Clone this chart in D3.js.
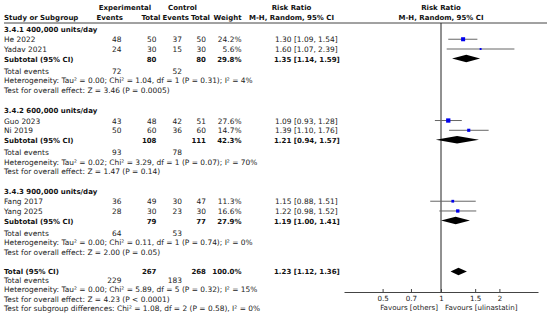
<!DOCTYPE html>
<html>
<head>
<meta charset="utf-8">
<script src="https://cdn.jsdelivr.net/npm/d3@7/dist/d3.min.js"></script>
<style>
  body { margin: 0; background: #fff; }
  svg text { font-family: "DejaVu Sans", sans-serif; font-size: 7.45px; fill: #222; }
  svg text.b { font-weight: bold; font-size: 7px; fill: #111; }
  svg .axis text, svg text.fav { font-size: 7.1px; }
</style>
</head>
<body>
<svg id="chart" width="550" height="321"></svg>
<script>
// ---- data ----
const studies     = ["He 2022", "Yadav  2021", "Guo 2023", "Ni 2019", "Fang 2017", "Yang  2025"];
const studyGroup  = [0, 0, 1, 1, 2, 2];
const expEvents   = [48, 24, 43, 50, 36, 28];
const expTotal    = [50, 30, 48, 60, 49, 30];
const ctlEvents   = [37, 15, 42, 36, 30, 23];
const ctlTotal    = [50, 30, 51, 60, 47, 30];
const weights     = [24.2, 5.6, 27.6, 14.7, 11.3, 16.6];
const rr          = [1.30, 1.60, 1.09, 1.39, 1.15, 1.22];
const rrLow       = [1.09, 1.07, 0.93, 1.10, 0.88, 0.98];
const rrHigh      = [1.54, 2.39, 1.28, 1.76, 1.51, 1.52];

const groups       = ["3.4.1 400,000 units/day", "3.4.2 600,000 units/day", "3.4.3 900,000 units/day"];
const subExpTotal  = [80, 108, 79];
const subCtlTotal  = [80, 111, 77];
const subWeight    = [29.8, 42.3, 27.9];
const subRR        = [1.35, 1.21, 1.19];
const subLow       = [1.14, 0.94, 1.00];
const subHigh      = [1.59, 1.57, 1.41];
const subExpEvents = [72, 93, 64];
const subCtlEvents = [52, 78, 53];
const subHet = [
  "Heterogeneity: Tau\u00b2 = 0.00; Chi\u00b2 = 1.04, df = 1 (P = 0.31); I\u00b2 = 4%",
  "Heterogeneity: Tau\u00b2 = 0.02; Chi\u00b2 = 3.29, df = 1 (P = 0.07); I\u00b2 = 70%",
  "Heterogeneity: Tau\u00b2 = 0.00; Chi\u00b2 = 0.11, df = 1 (P = 0.74); I\u00b2 = 0%"
];
const subTest = [
  "Test for overall effect: Z = 3.46 (P = 0.0005)",
  "Test for overall effect: Z = 1.47 (P = 0.14)",
  "Test for overall effect: Z = 2.00 (P = 0.05)"
];

const total = { expTotal: 267, ctlTotal: 268, weight: 100.0, rr: 1.23, low: 1.12, high: 1.36, expEvents: 229, ctlEvents: 183 };
const totalHet  = "Heterogeneity: Tau\u00b2 = 0.00; Chi\u00b2 = 5.89, df = 5 (P = 0.32); I\u00b2 = 15%";
const totalTest = "Test for overall effect: Z = 4.23 (P < 0.0001)";
const subgroupTest = "Test for subgroup differences: Chi\u00b2 = 1.08, df = 2 (P = 0.58), I\u00b2 = 0%";

const axisTicks = [0.5, 0.7, 1, 1.5, 2];
const favours = ["Favours [others]", "Favours [ulinastatin]"];

// ---- layout ----
const svg = d3.select("#chart");
const col = { study: 4, expEv: 121.5, expTot: 156.5, ctlEv: 182, ctlTot: 206, weight: 241.5, ci: 275 };
const head = { expEv: 123, expTot: 160.5, ctlEv: 189, ctlTot: 210, weight: 241.5, ci: 291.5, plot: 441 };

// row units -> pixels
const y = d3.scaleLinear().domain([0, 24.75]).range([29.5, 271]);
const groupBase = [0, 8.33, 16.6];
const rowOff = [0, 1.05, 2.05, 3.02, 4.24, 5.24, 6.22];
const totalRows = [24.75, 25.72, 26.67, 27.65, 28.62];

const x = d3.scaleLog().domain([Math.sqrt(0.1), Math.sqrt(10)]).range([344, 538]);
const boxSize = d3.scaleSqrt().domain([0, d3.max(weights)]).range([0, 4.3]);
const axisY = 292, lineY = 23;

const fmt2 = d3.format(".2f"), fmt1 = d3.format(".1f");
const ciText = (m, l, h) => fmt2(m) + " [" + fmt2(l) + ", " + fmt2(h) + "]";

function txt(xp, yp, s, anchor, bold, cls) {
  return svg.append("text")
    .attr("x", xp).attr("y", yp + 2.7)
    .attr("text-anchor", anchor || "start")
    .attr("class", (bold ? "b " : "") + (cls || ""))
    .text(s);
}

// header
txt(125, 7.3, "Experimental", "middle", true);
txt(182.5, 7.3, "Control", "middle", true);
txt(head.ci, 7.3, "Risk Ratio", "middle", true);
txt(head.plot, 7.3, "Risk Ratio", "middle", true);
txt(col.study, 17, "Study or Subgroup", "start", true);
txt(head.expEv, 17, "Events", "end", true);
txt(head.expTot, 17, "Total", "end", true);
txt(head.ctlEv, 17, "Events", "end", true);
txt(head.ctlTot, 17, "Total", "end", true);
txt(head.weight, 17, "Weight", "end", true);
txt(head.ci, 17, "M-H, Random, 95% CI", "middle", true);
txt(head.plot, 17, "M-H, Random, 95% CI", "middle", true);

svg.append("line").attr("x1", 4).attr("x2", 547).attr("y1", lineY).attr("y2", lineY)
  .attr("stroke", "#444").attr("stroke-width", 1);

// null line
svg.append("line").attr("x1", x(1)).attr("x2", x(1)).attr("y1", lineY).attr("y2", axisY)
  .attr("stroke", "#222").attr("stroke-width", 1);

function diamond(yc, m, l, h) {
  const hh = 3.7;
  svg.append("path")
    .attr("d", "M" + x(l) + "," + yc + "L" + x(m) + "," + (yc - hh) + "L" + x(h) + "," + yc + "L" + x(m) + "," + (yc + hh) + "Z")
    .attr("fill", "#000");
}

// subgroups
groups.forEach((g, gi) => {
  const r = k => y(groupBase[gi] + rowOff[k]);
  txt(col.study, r(0), g, "start", true);
  const idx = d3.range(studies.length).filter(i => studyGroup[i] === gi);
  idx.forEach((i, j) => {
    const yy = r(1 + j);
    txt(col.study, yy, studies[i]);
    txt(col.expEv, yy, expEvents[i], "end");
    txt(col.expTot, yy, expTotal[i], "end");
    txt(col.ctlEv, yy, ctlEvents[i], "end");
    txt(col.ctlTot, yy, ctlTotal[i], "end");
    txt(col.weight, yy, fmt1(weights[i]) + "%", "end");
    txt(col.ci, yy, ciText(rr[i], rrLow[i], rrHigh[i]));
    svg.append("line").attr("x1", x(rrLow[i])).attr("x2", x(rrHigh[i]))
      .attr("y1", yy - 0.5).attr("y2", yy - 0.5).attr("stroke", "#666").attr("stroke-width", 1);
    const s = boxSize(weights[i]);
    svg.append("rect").attr("x", x(rr[i]) - s / 2).attr("y", yy - 0.5 - s / 2)
      .attr("width", s).attr("height", s).attr("fill", "#0000ee");
  });
  const ys = r(3);
  txt(col.study, ys, "Subtotal (95% CI)", "start", true);
  txt(col.expTot, ys, subExpTotal[gi], "end", true);
  txt(col.ctlTot, ys, subCtlTotal[gi], "end", true);
  txt(col.weight, ys, fmt1(subWeight[gi]) + "%", "end", true);
  txt(col.ci - 1, ys, ciText(subRR[gi], subLow[gi], subHigh[gi]), "start", true);
  diamond(ys - 0.5, subRR[gi], subLow[gi], subHigh[gi]);
  txt(col.study, r(4), "Total events");
  txt(col.expEv, r(4), subExpEvents[gi], "end");
  txt(col.ctlEv, r(4), subCtlEvents[gi], "end");
  txt(col.study, r(5), subHet[gi]);
  txt(col.study, r(6), subTest[gi]);
});

// overall
const yt = y(totalRows[0]);
txt(col.study, yt, "Total (95% CI)", "start", true);
txt(col.expTot, yt, total.expTotal, "end", true);
txt(col.ctlTot, yt, total.ctlTotal, "end", true);
txt(col.weight, yt, fmt1(total.weight) + "%", "end", true);
txt(col.ci - 1, yt, ciText(total.rr, total.low, total.high), "start", true);
diamond(yt + 0.5, total.rr, total.low, total.high);
txt(col.study, y(totalRows[1]), "Total events");
txt(col.expEv, y(totalRows[1]), total.expEvents, "end");
txt(col.ctlEv, y(totalRows[1]), total.ctlEvents, "end");
txt(col.study, y(totalRows[2]), totalHet);
txt(col.study, y(totalRows[3]), totalTest);
txt(col.study, y(totalRows[4]), subgroupTest);

// axis
const ax = svg.append("g").attr("class", "axis").attr("transform", "translate(0," + axisY + ")")
  .call(d3.axisBottom(x).tickValues(axisTicks).tickFormat(d3.format("")).tickSize(-3).tickSizeOuter(0).tickPadding(3.5));
ax.select(".domain").attr("stroke", "#444");
ax.selectAll(".tick line").attr("stroke", "#444");
ax.selectAll("text").attr("font-family", null).attr("font-size", null).attr("fill", "#222");

txt(x(1) - 3, 307.5, favours[0], "end", false, "fav");
txt(x(1) + 4, 307.5, favours[1], "start", false, "fav");
</script>
</body>
</html>
